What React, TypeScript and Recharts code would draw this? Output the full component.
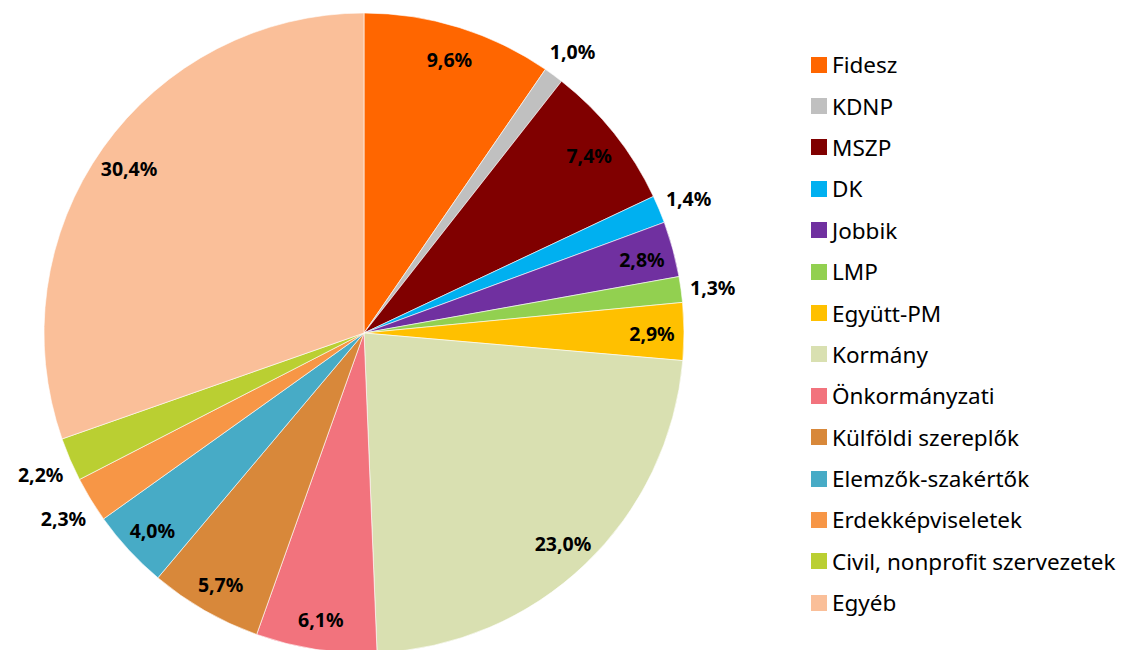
import React from 'react';
import { PieChart, Pie, Cell, Legend } from 'recharts';

const categories = [
  'Fidesz', 'KDNP', 'MSZP', 'DK', 'Jobbik', 'LMP', 'Együtt-PM', 'Kormány',
  'Önkormányzati', 'Külföldi szereplők', 'Elemzők-szakértők', 'Erdekképviseletek',
  'Civil, nonprofit szervezetek', 'Egyéb',
];
const shares = [9.6, 1.0, 7.4, 1.4, 2.8, 1.3, 2.9, 23.0, 6.1, 5.7, 4.0, 2.3, 2.2, 30.4];
const colors = [
  '#FF6600', '#C0C0C0', '#800000', '#00B0F0', '#7030A0', '#92D050', '#FFC000', '#D9E0B1',
  '#F2737D', '#D8883A', '#47ABC6', '#F79646', '#BACF32', '#FABF99',
];

const data = categories.map((name, i) => ({ name, value: shares[i] }));

const RAD = Math.PI / 180;
const fmt = (v: number) => v.toFixed(1).replace('.', ',') + '%';

const renderLabel = (p: any) => {
  const { cx, cy, midAngle, outerRadius, value } = p;
  const r = value < 2.5 ? outerRadius + 32 : outerRadius * 0.9;
  const x = cx + r * Math.cos(-midAngle * RAD);
  const y = cy + r * Math.sin(-midAngle * RAD) + 2;
  return (
    <text x={x} y={y} textAnchor="middle" dominantBaseline="central"
      fontFamily="'Noto Sans', sans-serif" fontWeight="bold" fontSize={19.5} fill="#000">
      {fmt(value)}
    </text>
  );
};

const renderLegend = () => (
  <div style={{ fontFamily: "'Noto Sans', sans-serif", fontSize: 22.5, color: '#000' }}>
    {categories.map((c, i) => (
      <div key={c} style={{ display: 'flex', alignItems: 'center', height: 41.4 }}>
        <span style={{ width: 16, height: 16, background: colors[i], marginRight: 5, display: 'inline-block', flexShrink: 0 }} />
        <span style={{ whiteSpace: 'nowrap' }}>{c}</span>
      </div>
    ))}
  </div>
);

export default function App() {
  return (
    <div style={{ position: 'absolute', left: 0, top: 0, background: '#fff' }}>
      <PieChart width={1126} height={650} margin={{ top: 0, right: 0, bottom: 0, left: 0 }}>
        <Pie
          data={data}
          dataKey="value"
          nameKey="name"
          cx={364}
          cy={333}
          outerRadius={320}
          startAngle={90}
          endAngle={-270}
          stroke="#fff"
          strokeWidth={0.6}
          label={renderLabel}
          labelLine={false}
          isAnimationActive={false}
        >
          {data.map((d, i) => (
            <Cell key={d.name} fill={colors[i]} />
          ))}
        </Pie>
        <Legend content={renderLegend} wrapperStyle={{ left: 811, top: 44, width: 315 }} />
      </PieChart>
    </div>
  );
}
